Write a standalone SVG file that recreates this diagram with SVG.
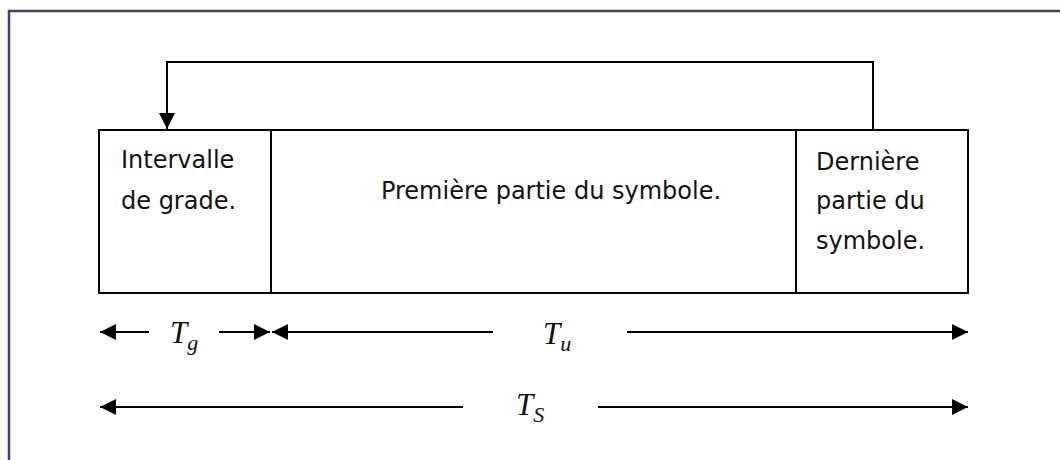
<svg xmlns="http://www.w3.org/2000/svg" width="1060" height="460" viewBox="0 0 1060 460">
  <style>
    .frame { fill: none; stroke: #4a3d6c; stroke-width: 2.5; }
    .box { fill: #ffffff; stroke: #000000; stroke-width: 2; }
    .conn { fill: none; stroke: #000000; stroke-width: 2; }
    .lbl { font-family: "DejaVu Sans", "Liberation Sans", sans-serif; font-size: 24px; fill: #111111; }
    .math { font-family: "Liberation Serif", serif; font-style: italic; font-size: 31px; fill: #111111; }
    .sub { font-size: 22px; }
  </style>
  <defs>
    <marker id="arr" markerUnits="userSpaceOnUse" markerWidth="16" markerHeight="16" refX="16" refY="8" orient="auto-start-reverse" viewBox="0 0 16 16">
      <path d="M0,0 L16,8 L0,16 Z" fill="#000000"/>
    </marker>
  </defs>
  <rect width="1060" height="460" fill="#ffffff"/>
  <path class="frame" d="M9,470 L9,11 L1070,11"/>

  <g id="node-garde">
    <rect class="box" x="99" y="130" width="172" height="163"/>
    <text class="lbl" x="121" y="168">Intervalle</text>
    <text class="lbl" x="121" y="209">de grade.</text>
  </g>
  <g id="node-premiere">
    <rect class="box" x="271" y="130" width="525" height="163"/>
    <text class="lbl" x="551" y="199" text-anchor="middle">Première partie du symbole.</text>
  </g>
  <g id="node-derniere">
    <rect class="box" x="796" y="130" width="172" height="163"/>
    <text class="lbl" x="816" y="170">Dernière</text>
    <text class="lbl" x="816" y="209">partie du</text>
    <text class="lbl" x="816" y="249">symbole.</text>
  </g>

  <g id="connectors">
    <polyline class="conn" points="873,130 873,62 167,62 167,129" marker-end="url(#arr)"/>
    <line class="conn" x1="100" y1="332" x2="149" y2="332" marker-start="url(#arr)"/>
    <line class="conn" x1="219" y1="332" x2="270" y2="332" marker-end="url(#arr)"/>
    <line class="conn" x1="272" y1="332" x2="493" y2="332" marker-start="url(#arr)"/>
    <line class="conn" x1="627" y1="332" x2="968" y2="332" marker-end="url(#arr)"/>
    <line class="conn" x1="100" y1="407" x2="463" y2="407" marker-start="url(#arr)"/>
    <line class="conn" x1="598" y1="407" x2="968" y2="407" marker-end="url(#arr)"/>
  </g>

  <g id="labels">
    <text class="math" x="170" y="343">T<tspan class="sub" dy="7">g</tspan></text>
    <text class="math" x="543" y="344">T<tspan class="sub" dy="7">u</tspan></text>
    <text class="math" x="516" y="415">T<tspan class="sub" dy="7">S</tspan></text>
  </g>
</svg>
